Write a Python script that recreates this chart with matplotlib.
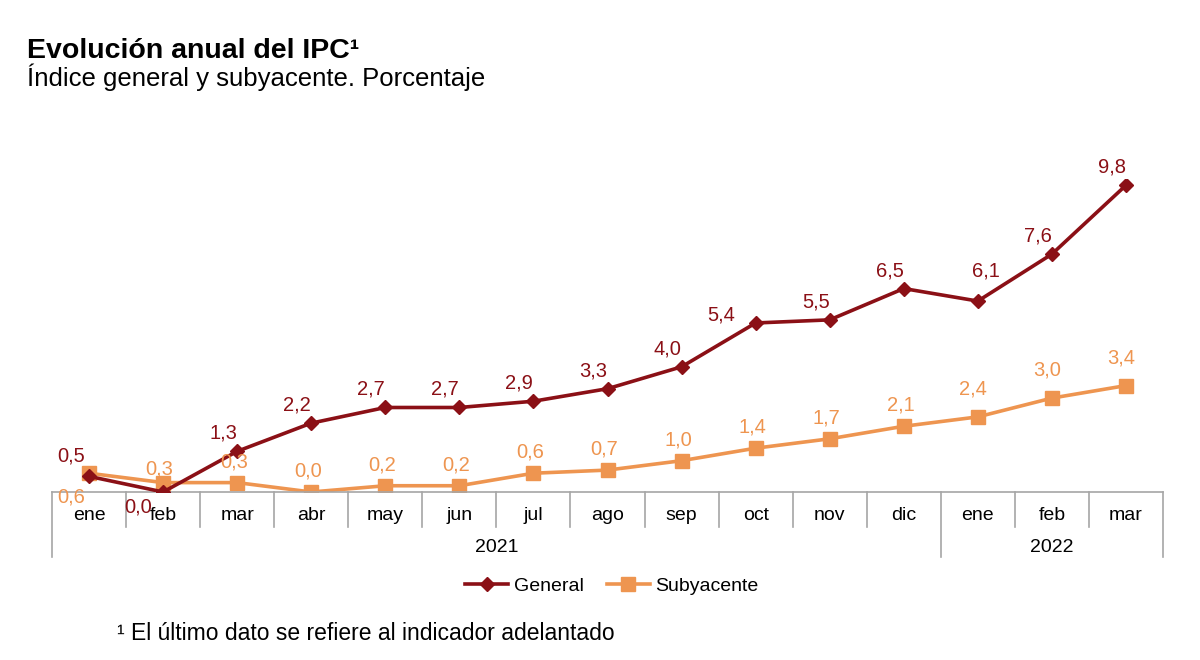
import matplotlib
matplotlib.use("Agg")
import matplotlib.pyplot as plt

plt.rcParams['font.family'] = ['Liberation Sans', 'DejaVu Sans']

# data
meses = ['ene', 'feb', 'mar', 'abr', 'may', 'jun', 'jul', 'ago', 'sep',
         'oct', 'nov', 'dic', 'ene', 'feb', 'mar']
anios = ['2021', '2022']
n_meses_anio = [12, 3]
general = [0.5, 0.0, 1.3, 2.2, 2.7, 2.7, 2.9, 3.3, 4.0, 5.4, 5.5, 6.5, 6.1, 7.6, 9.8]
subyacente = [0.6, 0.3, 0.3, 0.0, 0.2, 0.2, 0.6, 0.7, 1.0, 1.4, 1.7, 2.1, 2.4, 3.0, 3.4]

c_gen = '#8B1016'
c_sub = '#EE9550'
c_axis = '#A6A6A6'

fig = plt.figure(figsize=(12, 6.6), dpi=100)
ax = fig.add_axes([52/1200, 1-492/660, 1111/1200, 313/660])
ax_h = 313.0  # px height of axes, for below-axis offsets

x = list(range(len(meses)))
ax.plot(x, general, color=c_gen, lw=2.6, marker='D', ms=7, label='General', zorder=3)
ax.plot(x, subyacente, color=c_sub, lw=2.6, marker='s', ms=9.5, label='Subyacente', zorder=2)

ax.set_xlim(-0.5, len(meses) - 0.5)
ax.set_ylim(0, 10)
for s in ['top', 'right', 'left']:
    ax.spines[s].set_visible(False)
ax.spines['bottom'].set_color(c_axis)
ax.spines['bottom'].set_linewidth(1.2)
ax.set_xticks([])
ax.set_yticks([])

fmt = lambda v: f'{v:.1f}'.replace('.', ',')

# data labels (offsets in pixels -> points)
px = 72 / 100
for i, v in enumerate(general):
    dx, dy = -14, 18
    if i == 0:
        dx, dy = -18, 20
    if i == 1:
        dx, dy = -25, -15
    if i == 9:
        dx, dy = -34, 8
    if i == 12:
        dx, dy = 8, 30
    ax.annotate(fmt(v), (i, v), xytext=(dx*px, dy*px), textcoords='offset points',
                ha='center', va='center', fontsize=14.5, color=c_gen)
for i, v in enumerate(subyacente):
    dx, dy = -3, 21
    if i == 0:
        dx, dy = -18, -24
    if i == 1:
        dx, dy = -4, 14
    if i >= 12:
        dx, dy = -5, 28
    ax.annotate(fmt(v), (i, v), xytext=(dx*px, dy*px), textcoords='offset points',
                ha='center', va='center', fontsize=14.5, color=c_sub)

# category axis: months and years
tr = ax.get_xaxis_transform()
for i, m in enumerate(meses):
    ax.text(i, -23/ax_h, m, transform=tr, ha='center', va='center', fontsize=14)
year_bounds = [-0.5]
for n in n_meses_anio:
    year_bounds.append(year_bounds[-1] + n)
for b in range(len(meses) + 1):
    xb = b - 0.5
    depth = 65 if xb in year_bounds else 35
    ax.plot([xb, xb], [0, -depth/ax_h], transform=tr, color=c_axis, lw=1.2, clip_on=False)
for k, a in enumerate(anios):
    xc = (year_bounds[k] + year_bounds[k+1]) / 2
    ax.text(xc, -55/ax_h, a, transform=tr, ha='center', va='center', fontsize=14)

fig.legend(loc='center', bbox_to_anchor=(612/1200, 1-586/660), ncol=2, frameon=False,
           fontsize=14, handlelength=2.2, columnspacing=1.2, handletextpad=0.3)

fig.text(27/1200, 1-58/660, 'Evolución anual del IPC¹', fontsize=20.5, fontweight='bold',
         ha='left', va='baseline')
fig.text(27/1200, 1-86/660, 'Índice general y subyacente. Porcentaje', fontsize=18.5,
         ha='left', va='baseline')
fig.text(117/1200, 1-634/660, '¹ El último dato se refiere al indicador adelantado',
         fontsize=16.5, ha='left', va='center')

plt.savefig('out.png', dpi=100)
